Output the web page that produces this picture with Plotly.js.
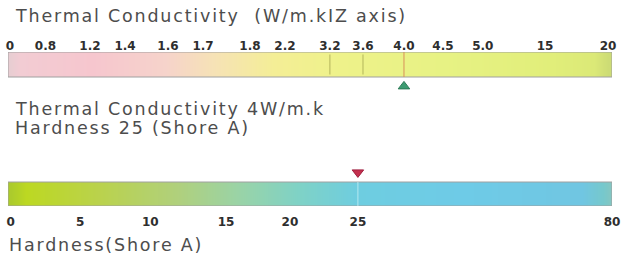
<!DOCTYPE html>
<html>
<head>
<meta charset="utf-8">
<script src="https://cdn.plot.ly/plotly-3.0.1.min.js"></script>
<style>
html,body{margin:0;padding:0;background:#fff;}
#chart{width:622px;height:257px;}
#chart .annotation-text{letter-spacing:1.8px;}
</style>
</head>
<body>
<div id="chart"></div>
<script>
// ---- data ----
const thermalTicks = [0, 0.8, 1.2, 1.4, 1.6, 1.7, 1.8, 2.2, 3.2, 3.6, 4.0, 4.5, 5.0, 15, 20];
const thermalTickText = ['0', '0.8', '1.2', '1.4', '1.6', '1.7', '1.8', '2.2', '3.2', '3.6', '4.0', '4.5', '5.0', '15', '20'];
const thermalValue = 4.0;
const thermalGuides = [3.2, 3.6];
const hardnessTicks = [0, 5, 10, 15, 20, 25, 80];
const hardnessTickText = ['0', '5', '10', '15', '20', '25', '80'];
const hardnessValue = 25;
const titleText = 'Thermal Conductivity  (W/m.kIZ axis)';
const infoLines = ['Thermal Conductivity 4W/m.k', 'Hardness 25 (Shore A)'];
const bottomLabel = 'Hardness(Shore A)';

// ---- layout of the non-linear scales (where each tick sits along the bar) ----
const thermalSlots = [0, 0.9, 2.03, 2.92, 4.01, 4.9, 6.09, 6.98, 8.12, 8.96, 10, 10.99, 12.0, 13.58, 15.18];
const hardnessSlots = [0, 1.0, 2.01, 3.1, 4.02, 5.0, 8.66];
const thermalRange = [-0.05, 15.28];
const hardnessRange = [-0.04, 8.66];

function toSlot(v, vals, slots) {
  for (let i = 0; i < vals.length - 1; i++) {
    if (v >= vals[i] && v <= vals[i + 1]) {
      const t = (v - vals[i]) / (vals[i + 1] - vals[i]);
      return slots[i] + t * (slots[i + 1] - slots[i]);
    }
  }
  return v < vals[0] ? slots[0] : slots[slots.length - 1];
}

const W = 622, H = 257;
const px = x => x / W;
const py = y => 1 - y / H;

const topScale = [
  [0, '#e6cdd2'], [0.02, '#f2ccd3'], [0.14, '#f6c6ce'], [0.26, '#f6d3cb'],
  [0.34, '#f6e2b6'], [0.44, '#f4ee96'], [0.55, '#eef28a'], [0.72, '#e7f284'],
  [0.9, '#e1ee7a'], [0.97, '#dbe977'], [1, '#c9d874']
];
const botScale = [
  [0, '#a9c92e'], [0.03, '#bcd822'], [0.15, '#bad24c'], [0.28, '#b0d07c'],
  [0.38, '#9ad3a6'], [0.48, '#7fd2c6'], [0.58, '#6ecde0'], [0.75, '#6ecbe7'],
  [0.95, '#70c6e2'], [0.985, '#76c8cc'], [1, '#86c6c0']
];

const topRow = thermalSlots.slice();
const botRow = hardnessSlots.slice();
const topMark = toSlot(thermalValue, thermalTicks, thermalSlots);
const botMark = toSlot(hardnessValue, hardnessTicks, hardnessSlots);

const traces = [
  {
    type: 'heatmap', x: thermalSlots, y: [0, 1], z: [topRow, topRow],
    zmin: thermalRange[0], zmax: thermalRange[1], colorscale: topScale,
    zsmooth: 'best', showscale: false, hoverinfo: 'skip', xaxis: 'x', yaxis: 'y'
  },
  {
    type: 'heatmap', x: hardnessSlots, y: [0, 1], z: [botRow, botRow],
    zmin: hardnessRange[0], zmax: hardnessRange[1], colorscale: botScale,
    zsmooth: 'best', showscale: false, hoverinfo: 'skip', xaxis: 'x2', yaxis: 'y2'
  },
  {
    type: 'scatter', mode: 'markers', x: [topMark], y: [-1.25],
    marker: {symbol: 'triangle-up', size: 10, color: '#3d9c72', line: {color: '#2c7a56', width: 1}},
    cliponaxis: false, hoverinfo: 'skip', xaxis: 'x', yaxis: 'y'
  },
  {
    type: 'scatter', mode: 'markers', x: [botMark], y: [2.3],
    marker: {symbol: 'triangle-down', size: 10, color: '#c4304e', line: {color: '#a02040', width: 1}},
    cliponaxis: false, hoverinfo: 'skip', xaxis: 'x2', yaxis: 'y2'
  }
];

const shapes = [
  {type: 'rect', xref: 'x', yref: 'y', x0: thermalRange[0], x1: thermalRange[1], y0: -0.5, y1: 1.5, line: {color: '#a0a0a0', width: 1}},
  {type: 'rect', xref: 'x2', yref: 'y2', x0: hardnessRange[0], x1: hardnessRange[1], y0: -0.5, y1: 1.5, line: {color: '#a0a0a0', width: 1}},
  {type: 'line', xref: 'x', yref: 'y', x0: topMark, x1: topMark, y0: -0.5, y1: 1.5, line: {color: '#d8905a', width: 1}},
  {type: 'line', xref: 'x2', yref: 'y2', x0: botMark, x1: botMark, y0: -0.5, y1: 1.5, line: {color: 'rgba(200,240,245,0.8)', width: 1}}
];
thermalGuides.forEach(g => {
  const s = toSlot(g, thermalTicks, thermalSlots);
  shapes.push({type: 'line', xref: 'x', yref: 'y', x0: s, x1: s, y0: -0.3, y1: 1.3, line: {color: 'rgba(140,140,60,0.6)', width: 1}});
});

const textFont = {family: 'DejaVu Sans, Verdana, sans-serif', size: 17.5, color: '#4d4d4d'};
const tickFont = {family: 'DejaVu Sans, Verdana, sans-serif', size: 12, color: '#2e2e2e', weight: 'bold'};

const annotations = [
  {xref: 'paper', yref: 'paper', x: px(13), y: py(16), xanchor: 'left', yanchor: 'middle', align: 'left', text: titleText, showarrow: false, font: textFont},
  {xref: 'paper', yref: 'paper', x: px(13), y: py(109), xanchor: 'left', yanchor: 'middle', align: 'left', text: infoLines[0], showarrow: false, font: textFont},
  {xref: 'paper', yref: 'paper', x: px(13), y: py(128), xanchor: 'left', yanchor: 'middle', align: 'left', text: infoLines[1], showarrow: false, font: textFont},
  {xref: 'paper', yref: 'paper', x: px(7), y: py(245), xanchor: 'left', yanchor: 'middle', align: 'left', text: bottomLabel, showarrow: false, font: textFont}
];

const layout = {
  width: W, height: H,
  margin: {l: 0, r: 0, t: 0, b: 0},
  paper_bgcolor: '#ffffff', plot_bgcolor: 'rgba(0,0,0,0)',
  showlegend: false,
  xaxis: {
    domain: [px(8), px(612)], range: thermalRange, side: 'top', anchor: 'y',
    tickmode: 'array', tickvals: thermalSlots, ticktext: thermalTickText,
    ticks: '', ticklabelstandoff: -1, tickfont: tickFont,
    showgrid: false, zeroline: false, showline: false, fixedrange: true
  },
  yaxis: {
    domain: [py(92), py(52)], range: [-1.7, 1.5], anchor: 'x',
    showticklabels: false, ticks: '', showgrid: false, zeroline: false, showline: false, fixedrange: true
  },
  xaxis2: {
    domain: [px(8), px(612)], range: hardnessRange, side: 'bottom', anchor: 'y2',
    tickmode: 'array', tickvals: hardnessSlots, ticktext: hardnessTickText,
    ticks: '', ticklabelstandoff: 7, tickfont: tickFont,
    showgrid: false, zeroline: false, showline: false, fixedrange: true
  },
  yaxis2: {
    domain: [py(206), py(164)], range: [-0.5, 3.0], anchor: 'x2',
    showticklabels: false, ticks: '', showgrid: false, zeroline: false, showline: false, fixedrange: true
  },
  shapes: shapes,
  annotations: annotations
};

Plotly.newPlot('chart', traces, layout, {displayModeBar: false, staticPlot: true});
</script>
</body>
</html>
